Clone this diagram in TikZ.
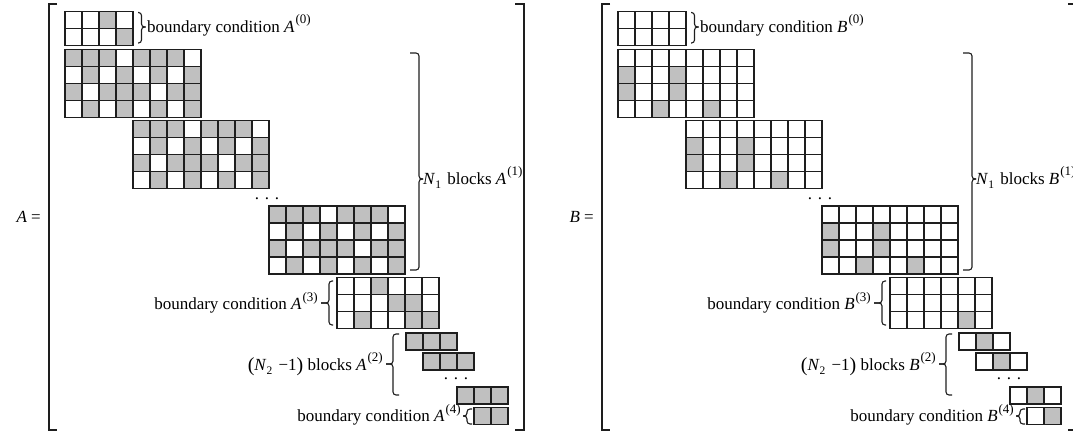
\documentclass[tikz,border=0pt]{standalone}
\usepackage{fontspec}
\setmainfont{Liberation Serif}
\definecolor{cellg}{RGB}{192,192,192}
\definecolor{ln}{RGB}{30,30,30}
\newcommand\supx[1]{\kern1pt\raisebox{0.48em}{\fontsize{13}{13}\selectfont(#1)}}
\newcommand\subx[1]{\raisebox{-0.28em}{\fontsize{11.5}{11.5}\selectfont#1}}
\newcommand\bigp[1]{\raisebox{-0.08em}{\fontsize{20}{20}\selectfont#1}}
\newcommand\mblock[3]{%
  \foreach \rw [count=\ri from 0] in #3 {%
    \foreach \cv [count=\ci from 0] in \rw {%
      \ifnum\cv=1 \def\cc{cellg}\else\def\cc{white}\fi
      \filldraw[cell,fill=\cc] ({#1+17*\ci},{#2+17*\ri}) rectangle ++(17,17);
    }}}
\newcommand\rbr[6]{%
  \draw[brc] (#1,#4) -- (#2,#4) -- (#2,#5) -- (#3,#5);
  \draw[brc] (#3,#5) -- (#2,#5) -- (#2,#6) -- (#1,#6);}
\def\pAzero{{0,0,1,0},{0,0,0,1}}
\def\pAone{{1,1,1,0,1,1,1,0},{0,1,0,1,0,1,0,1},{1,0,1,1,1,0,1,1},{0,1,0,1,0,1,0,1}}
\def\pAthree{{0,0,1,0,0,0},{0,0,0,1,1,0},{0,1,0,0,1,1}}
\def\pAtwo{{1,1,1}}
\def\pAfour{{1,1}}
\def\pBzero{{0,0,0,0},{0,0,0,0}}
\def\pBone{{0,0,0,0,0,0,0,0},{1,0,0,1,0,0,0,0},{1,0,0,1,0,0,0,0},{0,0,1,0,0,1,0,0}}
\def\pBthree{{0,0,0,0,0,0},{0,0,0,0,0,0},{0,0,0,0,1,0}}
\def\pBtwo{{0,1,0}}
\def\pBfour{{0,1}}
\newcommand\drawside[7]{%
  \begin{scope}[xshift=#1pt]
    \mblock{65}{11.5}{#3}
    \mblock{65}{49.5}{#4}
    \mblock{133}{120.5}{#4}
    \mblock{269}{206}{#4}
    \mblock{337}{277.5}{#5}
    \mblock{406}{333}{#6}
    \mblock{423}{353}{#6}
    \mblock{457}{387}{#6}
    \mblock{474}{407.5}{#7}
    \draw[big] (57,4) -- (49,4) -- (49,430) -- (57,430);
    \draw[big] (515,4) -- (524,4) -- (524,430) -- (515,430);
    \rbr{138}{141.5}{145.5}{12.5}{27}{43}
    \rbr{410}{419}{423}{53}{179}{270}
    \rbr{333}{329}{321}{281}{303}{325}
    \rbr{399}{393}{386}{334}{364}{395}
    \rbr{472}{467}{463}{409}{416}{424}
    \node[lbl,anchor=base east] (eq#2) at (41,222) {\textit{#2} =};
    \node[lbl,anchor=base west] (lzero#2) at (147,32) {boundary condition \textit{#2}\supx{0}};
    \node[lbl,anchor=base west] (lone#2) at (423,184) {\textit{N}\subx{1}\kern2pt\ blocks \textit{#2}\supx{1}};
    \node[lbl,anchor=base east] (lthree#2) at (318,309.5) {boundary condition \textit{#2}\supx{3}};
    \node[lbl,anchor=base east] (ltwo#2) at (383,370) {\bigp{(}\textit{N}\subx{2}\kern2pt\ −1\bigp{)} blocks \textit{#2}\supx{2}};
    \node[lbl,anchor=base east] (lfour#2) at (461,421.5) {boundary condition \textit{#2}\supx{4}};
    \node[lbl,anchor=base] (done#2) at (267,199.5) {. . .};
    \node[lbl,anchor=base] (dtwo#2) at (456,379.5) {. . .};
  \end{scope}}
\begin{document}
\begin{tikzpicture}[x=1pt,y=-1pt,
  cell/.style={draw=ln,line width=1.2pt},
  brc/.style={draw=ln,line width=1.1pt,rounded corners=3pt},
  big/.style={draw=ln,line width=1.2pt},
  lbl/.style={inner sep=0pt,text=black,font=\fontsize{17}{20}\selectfont}]
\clip (0,0) rectangle (1073,432);
\drawside{0}{A}{\pAzero}{\pAone}{\pAthree}{\pAtwo}{\pAfour}
\drawside{553}{B}{\pBzero}{\pBone}{\pBthree}{\pBtwo}{\pBfour}
\end{tikzpicture}
\end{document}
